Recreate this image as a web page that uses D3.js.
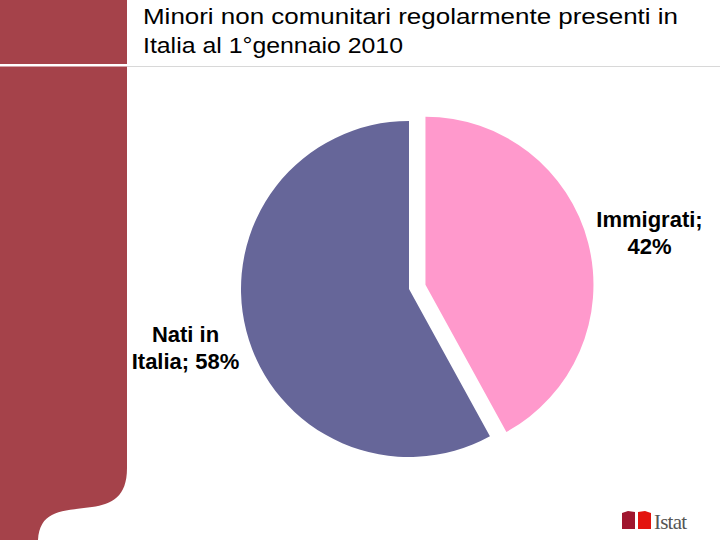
<!DOCTYPE html>
<html><head><meta charset="utf-8">
<script src="https://cdn.jsdelivr.net/npm/d3@7"></script>
<style>body{margin:0;background:#fff}svg{display:block}</style>
</head><body>
<svg id="c" width="720" height="540"></svg>
<script>
const titleLines = ["Minori non comunitari regolarmente presenti in", "Italia al 1°gennaio 2010"];
const categories = ["Immigrati", "Nati in Italia"];
const values = [42, 58];
const colors = ["#FF99CC", "#666699"];
const explode = [17, 0];

const svg = d3.select("#c");
// left band
svg.append("path")
  .attr("d", "M0,0 H127 V468 C127,497 112,504 92,507 C62,511 40,510 38,540 H0 Z")
  .attr("fill", "#A5424A");
// separator line
svg.append("rect").attr("x", 0).attr("y", 64).attr("width", 127).attr("height", 2.5).attr("fill", "#fff");
svg.append("line").attr("x1", 127).attr("x2", 720).attr("y1", 66.5).attr("y2", 66.5)
  .attr("stroke", "#d8d8d8").attr("stroke-width", 1);

const titleWidths = [535, 260];
svg.selectAll("text.title").data(titleLines).enter().append("text")
  .attr("x", 143).attr("y", (d, i) => 24 + i * 28.5)
  .attr("font-family", "Liberation Sans, Arial, sans-serif").attr("font-size", 22)
  .attr("textLength", (d, i) => titleWidths[i]).attr("lengthAdjust", "spacingAndGlyphs")
  .attr("fill", "#000").text(d => d);

const cx = 409, cy = 289, r = 168;
const pie = d3.pie().sort(null).value(d => d)(values);
const arc = d3.arc().innerRadius(0).outerRadius(r);
const g = svg.append("g").attr("transform", `translate(${cx},${cy})`);
g.selectAll("path").data(pie).enter().append("path")
  .attr("d", arc)
  .attr("fill", (d, i) => colors[i])
  .attr("transform", (d, i) => {
    const a = (d.startAngle + d.endAngle) / 2;
    return `translate(${Math.sin(a) * explode[i]},${-Math.cos(a) * explode[i]})`;
  });

const labelPos = [[649.5, 227], [185.5, 342]];
categories.forEach((c, i) => {
  const t = svg.append("text").attr("text-anchor", "middle")
    .attr("font-family", "Liberation Sans, Arial, sans-serif").attr("font-weight", "bold")
    .attr("font-size", 22).attr("fill", "#000");
  const parts = i === 0 ? [c + ";", values[i] + "%"] : ["Nati in", "Italia; " + values[i] + "%"];
  parts.forEach((p, j) => t.append("tspan").attr("x", labelPos[i][0]).attr("y", labelPos[i][1] + j * 26.5).text(p));
});

// Istat logo
svg.append("path").attr("d", "M622,513 L628,511 L635,512 L635,529 L622,529 Z").attr("fill", "#A0162E");
svg.append("path").attr("d", "M638,512 L645,511 L651,513 L651,529 L638,529 Z").attr("fill", "#E3140F");
svg.append("text").attr("x", 654).attr("y", 529)
  .attr("font-family", "Liberation Serif, Times New Roman, serif").attr("font-size", 21)
  .attr("fill", "#555").attr("textLength", 33).text("Istat");
</script>
</body></html>
